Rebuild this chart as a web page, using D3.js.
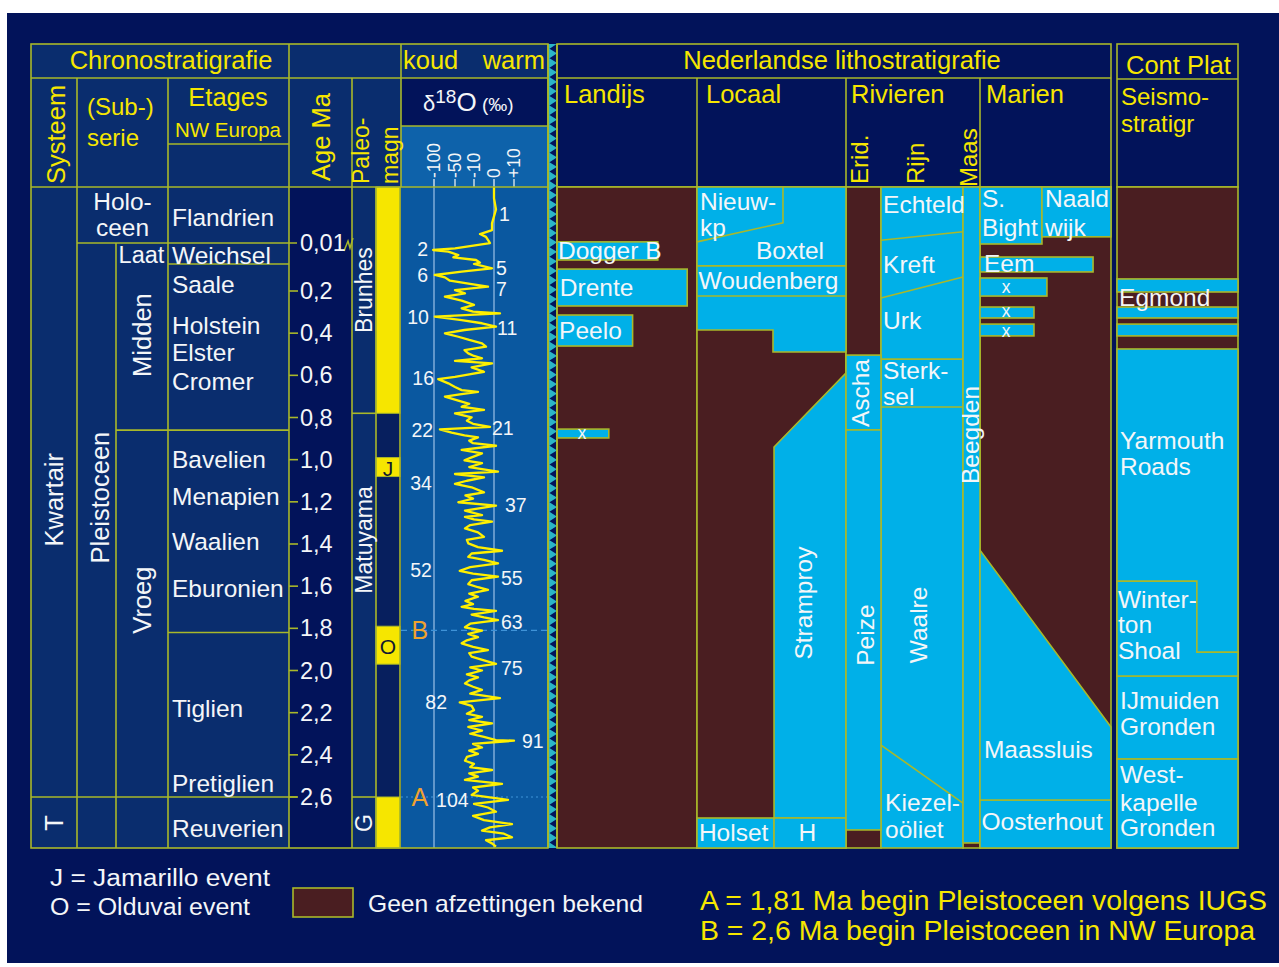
<!DOCTYPE html>
<html lang="nl">
<head>
<meta charset="utf-8">
<title>Kwartair stratigrafie Nederland</title>
<script src="https://cdn.jsdelivr.net/npm/d3@7/dist/d3.min.js"></script>
<style>
html,body{margin:0;padding:0;background:#ffffff;}
svg{display:block;font-family:"Liberation Sans",Arial,Helvetica,sans-serif;}
</style>
</head>
<body>
<svg id="chart" width="1279" height="967"></svg>
<script>
// ---------------- data ----------------
// age axis (Ma); the Holocene and Late Pleistocene are drawn stretched
const ageKnots = [0, 0.01, 0.115, 0.2, 2.6, 2.843];
const ageTicks = [0.2, 0.4, 0.6, 0.8, 1.0, 1.2, 1.4, 1.6, 1.8, 2.0, 2.2, 2.4, 2.6];
const ageTickLabels = ["0,2","0,4","0,6","0,8","1,0","1,2","1,4","1,6","1,8","2,0","2,2","2,4","2,6"];
const holoceneBase = 0.01;
const holoceneLabel = "0,01";

// chronostratigraphy
const systems = [["Kwartair", 0, 2.6, 1.19], ["T", 2.6, 2.843, 2.724]];
const subseries = [["Pleistoceen", 0.01, 2.6, 1.18]];
const subLabels = [["Laat", 0.07], ["Midden", 0.409], ["Vroeg", 1.666]];
const holoceneText = ["Holo-", "ceen"];
const holoceneTextAges = [0.0025, 0.0073];
const stageBounds = [0.01, 0.115, 0.86, 1.82, 2.6];
const stages = [
  ["Flandrien", 0.0054], ["Weichsel", 0.07], ["Saale", 0.181], ["Holstein", 0.366],
  ["Elster", 0.49], ["Cromer", 0.627], ["Bavelien", 0.997], ["Menapien", 1.173],
  ["Waalien", 1.386], ["Eburonien", 1.609], ["Tiglien", 2.178], ["Pretiglien", 2.534],
  ["Reuverien", 2.748]
];

// palaeomagnetism
const chrons = [["Brunhes", 0, 0.78, 0.197], ["Matuyama", 0.78, 2.6, 1.381], ["G", 2.6, 2.843, 2.724]];
const normalPolarity = [[0, 0.78, ""], [0.99, 1.08, "J"], [1.79, 1.97, "O"], [2.6, 2.843, ""]];

// oxygen isotope record: [age Ma, delta18O]
const d18Ticks = [-100, -50, -10, 0, 10];
const d18TickLabels = ["-100", "-50", "-10", "0", "+10"];
const d18Guides = [-100, 0];
const d18O = [
[0.000,0],[0.002,0],[0.004,1],[0.0065,-1],[0.0077,-1],[0.0084,-7],[0.0089,-4],[0.0101,-2],
[0.0365,-50],[0.045,-102],[0.0535,-66],[0.070,-43],[0.0815,-54],[0.095,-9],[0.1085,-7],[0.115,-10],[0.121,-6],[0.1285,-1],
[0.139,-36],[0.1496,-98],[0.157,-74],[0.1676,-62],[0.178,-15],[0.1865,-3],[0.197,-50],
[0.211,-29],[0.227,-74],[0.246,-36],[0.266,-10],[0.282,-36],[0.298,-12],[0.306,3],[0.322,-98],[0.338,-36],[0.353,-6],[0.369,1],
[0.385,-30],[0.401,-74],[0.417,-43],[0.432,-20],[0.448,-6],[0.464,-4],[0.48,-30],[0.496,-22],[0.508,-10],[0.519,-6],[0.531,-50],
[0.543,-1],[0.562,-15],[0.583,-5],[0.595,-20],[0.607,-50],[0.618,-90],[0.638,-66],[0.655,-50],[0.670,-36],[0.678,-8],[0.69,-40],
[0.701,-74],[0.720,-43],[0.735,-20],[0.749,-36],[0.764,-5],[0.780,-50],[0.799,-15],[0.815,-25],[0.83,-12],[0.844,-2],[0.856,-86],
[0.872,-58],[0.885,-30],[0.894,-8],[0.91,-20],[0.922,-12],[0.934,1],[0.954,-36],[0.970,-6],[0.989,-15],[1.003,-30],[1.017,-6],
[1.035,-20],[1.057,2],[1.068,-50],[1.084,-5],[1.1,-25],[1.115,-50],[1.131,-15],[1.155,-5],[1.17,-28],[1.185,-12],[1.202,-43],
[1.218,1],[1.242,-29],[1.263,-6],[1.271,-29],[1.283,-10],[1.294,-1],[1.31,-18],[1.326,-29],[1.345,-8],[1.366,-5],[1.38,-25],
[1.397,-22],[1.415,-8],[1.432,4],[1.445,-15],[1.461,-22],[1.475,-5],[1.492,2],[1.51,-18],[1.527,-40],[1.54,-12],[1.555,2],
[1.572,-15],[1.590,-22],[1.605,-8],[1.618,-3],[1.635,-20],[1.65,-8],[1.67,-28],[1.685,-12],[1.698,-36],[1.708,-10],[1.717,1],
[1.735,-15],[1.748,-5],[1.761,2],[1.778,-18],[1.795,-29],[1.811,-6],[1.826,-22],[1.842,-8],[1.857,-25],[1.871,-36],[1.888,-12],
[1.903,-3],[1.918,-20],[1.934,-15],[1.952,-5],[1.969,1],[1.985,-18],[2.0,-6],[2.018,-25],[2.033,-8],[2.047,-20],[2.061,-29],
[2.077,-12],[2.092,-6],[2.11,-18],[2.131,3],[2.151,-40],[2.168,-15],[2.188,-10],[2.205,-25],[2.22,-6],[2.235,-20],[2.251,-1],
[2.268,-22],[2.285,-6],[2.3,-18],[2.315,-5],[2.330,1],[2.333,10],[2.348,-12],[2.365,-6],[2.38,-20],[2.395,-8],[2.41,-25],
[2.428,-29],[2.443,-10],[2.458,-18],[2.472,-1],[2.488,-20],[2.503,-8],[2.519,-29],[2.538,4],[2.555,-12],[2.570,-8],[2.59,-15],
[2.614,7],[2.633,-10],[2.65,-3],[2.670,1],[2.69,-12],[2.710,-5],[2.729,9],[2.745,-2],[2.760,-6],[2.775,5],[2.792,9],[2.806,-4],
[2.821,-1],[2.837,1]
];
// marine isotope stage numbers: [label, age, delta position, anchor]
const misLabels = [
  ["1",0.0048,2.5,"start"],["2",0.04,-114,"end"],["5",0.1276,1,"start"],["6",0.1496,-114,"end"],
  ["7",0.194,1,"start"],["10",0.323,-112,"end"],["11",0.376,1.5,"start"],["16",0.613,-100,"end"],
  ["21",0.85,-1,"start"],["22",0.859,-102,"end"],["34",1.111,-105,"end"],["37",1.215,5.5,"start"],
  ["52",1.524,-105,"end"],["55",1.562,3.5,"start"],["63",1.77,3.5,"start"],["75",1.988,3.5,"start"],
  ["82",2.15,-69,"end"],["91",2.335,14,"start"],["104",2.614,-95,"start"]
];
// Pleistocene base markers
const events = [["B", 1.81, "dash"], ["A", 2.6, "dot"]];
const eventLabelDelta = -134;

// lithostratigraphy: rectangular units [name, from-across, to-across, top age, base age]
const landijsUnits = [["Dogger B",0,0.72,0.0098,0.095],["Drente",0,0.93,0.131,0.271],["Peelo",0,0.54,0.314,0.461],["x",0,0.37,0.855,0.897]];
const locaalUnits = [["Holset",0,0.517,2.70,2.843],["H",0.517,1,2.70,2.843]];
const eridUnits = [["Ascha",0,1,0.504,0.859],["Peize",0,1,0.859,2.757]];
const maasUnits = [["Beegden",0,1,0,2.819]];
const marienUnits = [["S. Bight",0,0.473,0,0.015],["Naaldwijk",0.473,1,0,0.0089],["Eem",0,0.863,0.08,0.14],
  ["x",0,0.511,0.159,0.224],["x",0,0.412,0.276,0.328],["x",0,0.412,0.357,0.413],["Oosterhout",0,1,2.614,2.843]];
const contUnits = [["",0,1,0.162,0.2047],["",0,1,0.276,0.328],["",0,1,0.357,0.413],["Yarmouth Roads",0,1,0.475,2.026],
  ["IJmuiden Gronden",0,1,2.026,2.42],["Westkapelle Gronden",0,1,2.42,2.843]];
// irregular units: [column, [across, age] vertices]
const boxtelGroup = ["locaal", [[0,0],[1,0],[1,0.489],[0.51,0.489],[0.51,0.385],[0,0.385]]];
const stramproy = ["locaal", [[0.517,0.94],[1,0.589],[1,2.70],[0.517,2.70]]];
const maassluis = ["marien", [[0,1.429],[1,2.268],[1,2.614],[0,2.614]]];
const winterton = ["cont", [[0,1.576],[0.66,1.576],[0.66,1.913],[1,1.913],[1,2.026],[0,2.026]]];
// internal formation boundaries
const boundaries = [
  ["locaal", [[0,0.0098],[0.577,0.0064],[0.577,0]]],
  ["locaal", [[0,0.121],[1,0.121]]],
  ["locaal", [[0,0.224],[1,0.224]]],
  ["rijn", [[0,0.0095],[1,0.008]]],
  ["rijn", [[0,0.233],[1,0.156]]],
  ["rijn", [[0,0.523],[1,0.523]]],
  ["rijn", [[0,0.75],[1,0.75]]],
  ["rijn", [[0,2.354],[1,2.629]]]
];
// formation names: [column, across, age, text, anchor, vertical]
const unitLabels = [
  ["landijs",0.007,0.045,"Dogger B"],["landijs",0.02,0.19,"Drente"],["landijs",0.015,0.385,"Peelo"],["landijs",0.18,0.873,"x","middle"],
  ["locaal",0.02,0.0025,"Nieuw-"],["locaal",0.02,0.0072,"kp"],["locaal",0.624,0.045,"Boxtel","middle"],
  ["locaal",0.01,0.1685,"Woudenberg"],["locaal",0.718,1.68,"Stramproy","middle",true],
  ["locaal",0.013,2.771,"Holset"],["locaal",0.74,2.771,"H","middle"],
  ["erid",0.42,0.684,"Ascha","middle",true],["erid",0.55,1.832,"Peize","middle",true],
  ["rijn",0.025,0.0032,"Echteld"],["rijn",0.025,0.118,"Kreft"],["rijn",0.025,0.338,"Urk"],
  ["rijn",0.025,0.575,"Sterk-"],["rijn",0.025,0.70,"sel"],["rijn",0.46,1.784,"Waalre","middle",true],
  ["rijn",0.05,2.625,"Kiezel-"],["rijn",0.05,2.755,"oöliet"],
  ["maas",0.45,0.883,"Beegden","middle",true],
  ["marien",0.015,0.0021,"S."],["marien",0.015,0.0072,"Bight"],["marien",0.496,0.0021,"Naald"],["marien",0.496,0.0072,"wijk"],
  ["marien",0.03,0.11,"Eem"],["marien",0.2,0.1865,"x","middle"],["marien",0.2,0.295,"x","middle"],["marien",0.2,0.39,"x","middle"],
  ["marien",0.03,2.377,"Maassluis"],["marien",0.012,2.719,"Oosterhout"],
  ["cont",0.017,0.233,"Egmond"],["cont",0.025,0.908,"Yarmouth"],["cont",0.025,1.033,"Roads"],
  ["cont",0.008,1.662,"Winter-"],["cont",0.008,1.784,"ton"],["cont",0.008,1.906,"Shoal"],
  ["cont",0.025,2.142,"IJmuiden"],["cont",0.025,2.266,"Gronden"],
  ["cont",0.025,2.495,"West-"],["cont",0.025,2.625,"kapelle"],["cont",0.025,2.745,"Gronden"]
];

// legend
const legendEvents = ["J = Jamarillo event", "O = Olduvai event"];
const legendGap = "Geen afzettingen bekend";
const legendBases = ["A = 1,81 Ma begin Pleistoceen volgens IUGS", "B = 2,6 Ma begin Pleistoceen in NW Europa"];

// ---------------- drawing ----------------
const C = {
  panel:"#02135a", cell:"#0a2d6e", magDark:"#071f5e", d18:"#0a58a0", d18Axis:"#0e62aa",
  cyan:"#00b0e8", maroon:"#4a1e21", line:"#a9b82a", yellow:"#f6e600", white:"#f4f6f8",
  curve:"#fff000", orange:"#f0a22e", guide:"#9cc2e6", event:"#3f93d8", saw:"#2bb5c8"
};
const LW = 1.6;
const FS = 24.5;   // body label size
const HS = 25.5;   // header label size

const svg = d3.select("#chart");
svg.append("rect").attr("width",1279).attr("height",967).attr("fill","#ffffff");
svg.append("rect").attr("x",7).attr("y",13).attr("width",1272).attr("height",950).attr("fill",C.panel);

const yTop = 44, row1 = 78, bodyTop = 187, bodyBot = 848;
const y = d3.scaleLinear().domain(ageKnots).range([bodyTop, 243, 264, 291, 797, bodyBot]);

const cols = {
  sys:[31,77], ser:[77,116], sub:[116,168], hol:[77,168], eta:[168,289], age:[289,352], pal:[352,376], mag:[376,400],
  d18:[401,548], saw:[548,557],
  landijs:[557,697], locaal:[697,846], erid:[846,881], rijn:[881,963], maas:[963,980], marien:[980,1111], cont:[1117,1238]
};
const xc = (c, f) => cols[c][0] + f * (cols[c][1] - cols[c][0]);
const xd = d3.scaleLinear().domain(d18Ticks).range([434, 455, 474, 494, 514]);

function box(g, x0, y0, x1, y1, fill, stroke) {
  return g.append("rect").attr("x",x0).attr("y",y0).attr("width",x1-x0).attr("height",y1-y0)
    .attr("fill",fill).attr("stroke",stroke || "none").attr("stroke-width",LW);
}
function seg(g, x0, y0, x1, y1, color, w) {
  return g.append("line").attr("x1",x0).attr("y1",y0).attr("x2",x1).attr("y2",y1)
    .attr("stroke",color || C.line).attr("stroke-width",w || LW);
}
function txt(g, x, yy, s, o = {}) {
  const t = g.append("text").attr("x",x).attr("y",yy).text(s)
    .attr("fill",o.fill || C.white).attr("font-size",o.size || FS)
    .attr("text-anchor",o.anchor || "start")
    .attr("dominant-baseline",o.base || "central");
  if (o.rot) t.attr("transform",`rotate(-90,${x},${yy})`);
  if (o.len) t.attr("textLength",o.len).attr("lengthAdjust","spacingAndGlyphs");
  return t;
}

const gFill = svg.append("g"), gLines = svg.append("g"), gText = svg.append("g");

// ---- header backgrounds ----
box(gFill, 31, yTop, 401, bodyTop, C.cell);
box(gFill, 401, yTop, 548, row1, C.cell);
box(gFill, 401, row1, 548, 126, C.panel);
box(gFill, 401, 126, 548, bodyTop, C.d18Axis);

// ---- chronostratigraphy body ----
box(gFill, 31, bodyTop, 289, bodyBot, C.cell);
box(gFill, 289, bodyTop, 352, bodyBot, C.panel);
box(gFill, 352, bodyTop, 376, bodyBot, C.cell);
box(gFill, 376, bodyTop, 400, bodyBot, C.magDark);
normalPolarity.forEach(p => box(gFill, 376, y(p[0]), 400, y(p[1]), C.yellow));

// ---- oxygen isotope column ----
box(gFill, 401, bodyTop, 548, bodyBot, C.d18);
d18Guides.forEach(v => seg(gFill, xd(v), bodyTop, xd(v), bodyBot, C.guide, 1.2));
d18Ticks.forEach((v, i) => {
  seg(gFill, xd(v), 179, xd(v), bodyTop, "#d8e4ee", 1.4);
  txt(gText, xd(v), 178, d18TickLabels[i], {rot:true, size:17.5, base:"central"});
});
events.forEach(e => {
  seg(gFill, 401, y(e[1]), 548, y(e[1]), C.event, 1.2).attr("stroke-dasharray", e[2] === "dash" ? "6,4" : "2,3");
  txt(gText, xd(eventLabelDelta), y(e[1]), e[0], {fill:C.orange, size:25, anchor:"middle"});
});
svg.append("clipPath").attr("id","d18clip").append("rect")
  .attr("x",401).attr("y",bodyTop).attr("width",147).attr("height",bodyBot - bodyTop);
gFill.append("path").datum(d18O)
  .attr("d", d3.line().x(d => xd(d[1])).y(d => y(d[0])))
  .attr("fill","none").attr("stroke",C.curve).attr("stroke-width",2.3).attr("stroke-linejoin","round")
  .attr("clip-path","url(#d18clip)");
misLabels.forEach(m => txt(gText, xd(m[2]), y(m[1]), m[0], {size:19.5, anchor:m[3]}));

// ---- sawtooth edge ----
box(gFill, 548, yTop, 557, bodyBot, C.saw);
const toothH = 9.45;
d3.range(Math.floor((bodyBot - yTop) / toothH)).forEach(i => {
  const t0 = yTop + i * toothH;
  gFill.append("path").attr("d", `M549.5,${t0 + toothH / 2}L556,${t0 + 0.6}L556,${t0 + toothH - 0.6}Z`).attr("fill", C.panel);
});
seg(gLines, 548, yTop, 548, bodyBot);
seg(gLines, 557, yTop, 557, bodyBot);

// ---- lithostratigraphy ----
box(gFill, 557, yTop, 1111, bodyTop, C.panel, C.line);
box(gFill, 1117, yTop, 1238, bodyTop, C.panel, C.line);
["landijs","locaal","erid","maas","marien","cont"].forEach(c => box(gFill, cols[c][0], bodyTop, cols[c][1], bodyBot, C.maroon, C.line));
box(gFill, cols.rijn[0], bodyTop, cols.rijn[1], bodyBot, C.cyan, C.line);

const lineGen = (c) => d3.line().x(p => xc(c, p[0])).y(p => y(p[1]));
function polyUnit(u) {
  gFill.append("path").attr("d", lineGen(u[0])(u[1]) + "Z")
    .attr("fill", C.cyan).attr("stroke", C.line).attr("stroke-width", LW);
}
function rectUnits(c, list) {
  list.forEach(u => box(gFill, xc(c, u[1]), y(u[3]), xc(c, u[2]), y(u[4]), C.cyan, C.line));
}
polyUnit(boxtelGroup);
polyUnit(stramproy);
rectUnits("landijs", landijsUnits);
rectUnits("locaal", locaalUnits);
rectUnits("erid", eridUnits);
rectUnits("maas", maasUnits);
rectUnits("marien", marienUnits);
polyUnit(maassluis);
rectUnits("cont", contUnits);
polyUnit(winterton);
boundaries.forEach(b => gFill.append("path").attr("d", lineGen(b[0])(b[1]))
  .attr("fill","none").attr("stroke",C.line).attr("stroke-width",LW));
unitLabels.forEach(l => txt(gText, xc(l[0], l[1]), y(l[2]), l[3],
  {anchor:l[4] || "start", rot:!!l[5], size:l[3] === "x" ? 17.5 : FS}));

// ---- grid lines (chronostratigraphy + headers) ----
gLines.append("rect").attr("x",31).attr("y",yTop).attr("width",517).attr("height",bodyBot - yTop)
  .attr("fill","none").attr("stroke",C.line).attr("stroke-width",LW);
seg(gLines, 31, row1, 548, row1);
seg(gLines, 31, bodyTop, 548, bodyTop);
[289, 401].forEach(x => seg(gLines, x, yTop, x, bodyTop));
[77, 168, 352].forEach(x => seg(gLines, x, row1, x, bodyTop));
seg(gLines, 168, 144, 289, 144);
seg(gLines, 401, 126, 548, 126);
seg(gLines, 557, row1, 1111, row1);
[697, 846, 980].forEach(x => seg(gLines, x, row1, x, bodyTop));
seg(gLines, 1117, 79, 1238, 79);
// body verticals
[77, 168, 289, 352, 376, 400].forEach(x => seg(gLines, x, bodyTop, x, bodyBot));
seg(gLines, 116, y(holoceneBase), 116, bodyBot);
// stage / series boundaries
seg(gLines, 77, y(holoceneBase), 297, y(holoceneBase));
seg(gLines, 168, y(stageBounds[1]), 289, y(stageBounds[1]));
seg(gLines, 116, y(stageBounds[2]), 289, y(stageBounds[2]));
seg(gLines, 168, y(stageBounds[3]), 289, y(stageBounds[3]));
seg(gLines, 31, y(stageBounds[4]), 297, y(stageBounds[4]));
chrons.forEach(c => { if (c[1] > 0) seg(gLines, 352, y(c[1]), 376, y(c[1])); });
normalPolarity.forEach(p => gLines.append("rect").attr("x",376).attr("y",y(p[0])).attr("width",24)
  .attr("height",y(p[1]) - y(p[0])).attr("fill","none").attr("stroke",C.line).attr("stroke-width",1));
// age ticks
ageTicks.forEach((t, i) => {
  seg(gLines, 289, y(t), 298, y(t));
  txt(gText, 300, y(t), ageTickLabels[i], {size:23.5});
});
txt(gText, 300, y(holoceneBase), holoceneLabel, {size:23.5});
gLines.append("path").attr("d", `M344,${y(holoceneBase) + 8}L348,${y(holoceneBase) - 2}L350,${y(holoceneBase) + 5}L353,${y(holoceneBase) - 5}`)
  .attr("fill","none").attr("stroke",C.line).attr("stroke-width",1.5);

// ---- chronostratigraphic labels ----
systems.forEach(s => txt(gText, xc("sys", 0.5), y(s[3]), s[0], {rot:true, anchor:"middle", size:HS}));
subseries.forEach(s => txt(gText, xc("ser", 0.6), y(s[3]), s[0], {rot:true, anchor:"middle", size:HS}));
holoceneText.forEach((s, i) => txt(gText, xc("hol", 0.5), y(holoceneTextAges[i]), s, {anchor:"middle"}));
txt(gText, xc("sub", 0.05), y(subLabels[0][1]), subLabels[0][0], {size:23.5});
subLabels.slice(1).forEach(s => txt(gText, xc("sub", 0.5), y(s[1]), s[0], {rot:true, anchor:"middle", size:HS}));
stages.forEach(s => txt(gText, xc("eta", 0.033), y(s[1]), s[0]));
chrons.forEach(c => txt(gText, xc("pal", 0.5), y(c[3]), c[0], {rot:true, anchor:"middle", size:23}));
normalPolarity.filter(p => p[2]).forEach(p =>
  txt(gText, xc("mag", 0.5), (y(p[0]) + y(p[1])) / 2 + 1, p[2], {anchor:"middle", size:21, fill:"#101830"}));

// ---- header texts ----
const Y = {fill:C.yellow};
txt(gText, 171, 69, "Chronostratigrafie", {...Y, size:HS, anchor:"middle", base:"alphabetic"});
txt(gText, 403, 69, "koud", {...Y, size:HS, base:"alphabetic"});
txt(gText, 545, 69, "warm", {...Y, size:HS, anchor:"end", base:"alphabetic"});
txt(gText, 56, 184, "Systeem", {...Y, size:HS, rot:true});
txt(gText, 87, 115, "(Sub-)", {...Y, size:24, base:"alphabetic"});
txt(gText, 87, 146, "serie", {...Y, size:24, base:"alphabetic"});
txt(gText, 228, 106, "Etages", {...Y, size:HS, anchor:"middle", base:"alphabetic"});
txt(gText, 228, 137, "NW Europa", {...Y, size:20.5, anchor:"middle", base:"alphabetic"});
txt(gText, 321, 181, "Age Ma", {...Y, size:HS, rot:true});
txt(gText, 361, 184, "Paleo-", {...Y, size:23, rot:true});
txt(gText, 390, 184, "magn", {...Y, size:23, rot:true});
const dt = gText.append("text").attr("x",423).attr("y",111).attr("fill",C.white).attr("font-size",22);
dt.append("tspan").text("δ");
dt.append("tspan").attr("dy",-8).attr("font-size",19).text("18");
dt.append("tspan").attr("dy",8).attr("font-size",26).text("O");
dt.append("tspan").attr("font-size",19).text(" (‰)");
txt(gText, 842, 69, "Nederlandse lithostratigrafie", {...Y, size:HS, anchor:"middle", base:"alphabetic"});
txt(gText, 564, 103, "Landijs", {...Y, size:HS, base:"alphabetic"});
txt(gText, 706, 103, "Locaal", {...Y, size:HS, base:"alphabetic"});
txt(gText, 851, 103, "Rivieren", {...Y, size:HS, base:"alphabetic"});
txt(gText, 986, 103, "Marien", {...Y, size:HS, base:"alphabetic"});
txt(gText, 859, 184, "Erid.", {...Y, size:24, rot:true});
txt(gText, 915, 184, "Rijn", {...Y, size:24, rot:true});
txt(gText, 968, 187, "Maas", {...Y, size:24, rot:true});
txt(gText, 1126, 74, "Cont Plat", {...Y, size:HS, base:"alphabetic"});
txt(gText, 1121, 105, "Seismo-", {...Y, size:24, base:"alphabetic"});
txt(gText, 1121, 132, "stratigr", {...Y, size:24, base:"alphabetic"});

// ---- legend ----
txt(gText, 50, 878, legendEvents[0], {size:23, len:220});
txt(gText, 50, 907, legendEvents[1], {size:23, len:200});
box(gText, 293, 888, 353, 917, C.maroon, C.line);
txt(gText, 368, 903, legendGap, {size:24, len:275});
txt(gText, 700, 900, legendBases[0], {...Y, size:28, len:567});
txt(gText, 700, 930, legendBases[1], {...Y, size:28, len:555});
</script>
</body>
</html>
